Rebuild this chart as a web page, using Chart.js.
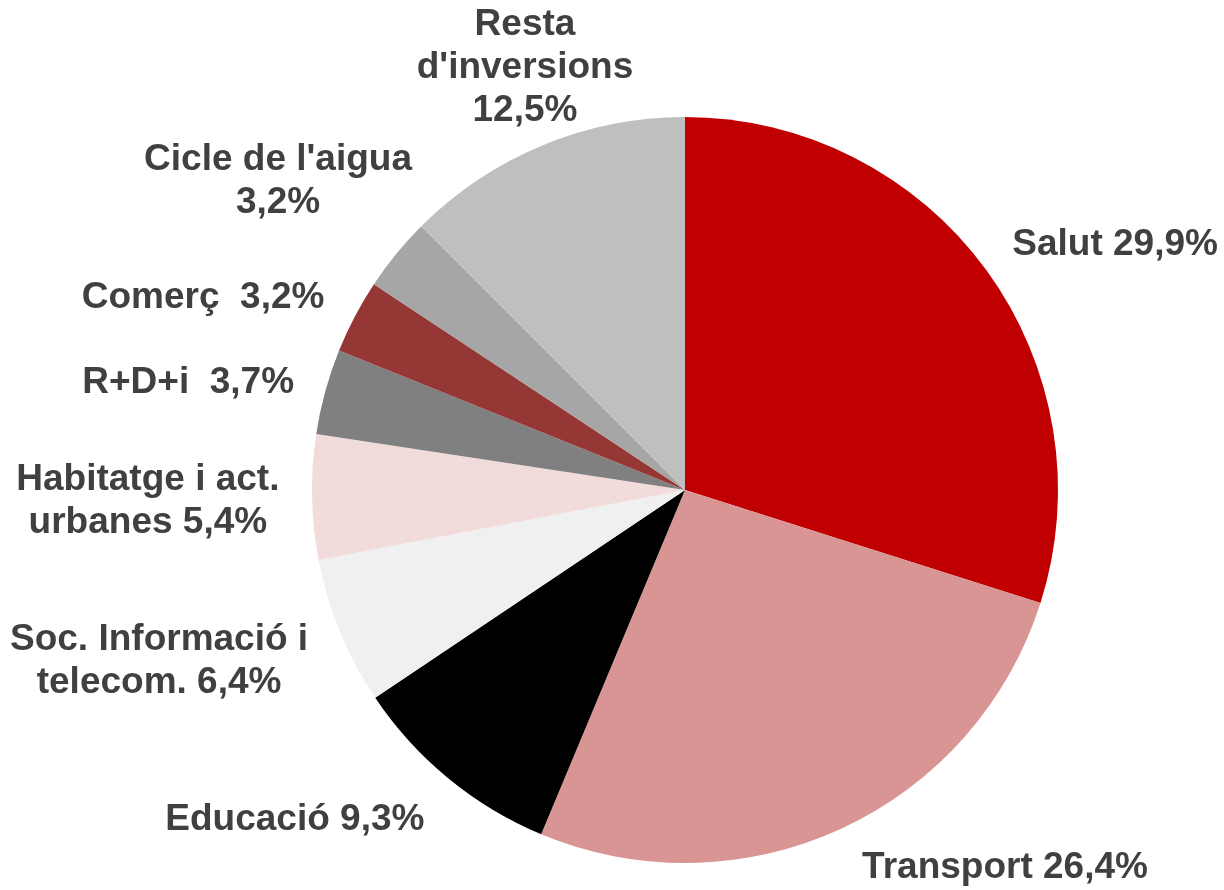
<!DOCTYPE html>
<html>
<head>
<meta charset="utf-8">
<script src="https://cdn.jsdelivr.net/npm/chart.js@4/dist/chart.umd.min.js"></script>
<style>
  html, body { margin: 0; padding: 0; background: #fff; }
  #wrap { width: 1224px; height: 890px; }
</style>
</head>
<body>
<div id="wrap"><canvas id="inversions" width="1224" height="890"></canvas></div>
<script>
const categories = ['Salut', 'Transport', 'Educació', 'Soc. Informació i\ntelecom.', 'Habitatge i act.\nurbanes',
  'R+D+i', 'Comerç', "Cicle de l'aigua", "Resta\nd'inversions"];
const shares = [29.9, 26.4, 9.3, 6.4, 5.4, 3.7, 3.2, 3.2, 12.5];
const labelSep = [' ', ' ', ' ', ' ', ' ', '  ', '  ', '\n', '\n'];
const colors = ['#C00000', '#D99594', '#000000', '#F0F0F0', '#F2DCDB', '#808080', '#953735', '#A6A6A6', '#BFBFBF'];

// label anchor offsets, in units of the pie radius from its centre
const labelOffsets = [[1.153, -0.657], [0.858, 1.013], [-1.046, 0.885], [-1.41, 0.458], [-1.44, 0.031],
  [-1.332, -0.287], [-1.292, -0.515], [-1.091, -0.828], [-0.429, -1.131]];

const fmt = v => v.toFixed(1).replace('.', ',') + '%';

const outsideLabels = {
  id: 'outsideLabels',
  afterDraw(chart) {
    const ctx = chart.ctx;
    const arcs = chart.getDatasetMeta(0).data;
    ctx.save();
    ctx.font = 'bold 37px "Liberation Sans", Arial, sans-serif';
    ctx.fillStyle = '#404040';
    ctx.textAlign = 'center';
    ctx.textBaseline = 'middle';
    arcs.forEach((arc, i) => {
      const r = arc.outerRadius;
      const cx = arc.x + labelOffsets[i][0] * r;
      const cy = arc.y + labelOffsets[i][1] * r;
      const lines = (categories[i] + labelSep[i] + fmt(shares[i])).split('\n');
      const lh = 43;
      const y0 = cy - (lines.length - 1) * lh / 2;
      lines.forEach((t, k) => ctx.fillText(t, cx, y0 + k * lh));
    });
    ctx.restore();
  }
};

new Chart(document.getElementById('inversions'), {
  type: 'pie',
  data: {
    labels: categories,
    datasets: [{
      data: shares,
      backgroundColor: colors,
      borderWidth: 0
    }]
  },
  options: {
    responsive: false,
    animation: false,
    layout: { padding: { left: 312, top: 117, right: 166, bottom: 27 } },
    plugins: {
      legend: { display: false },
      tooltip: { enabled: false }
    }
  },
  plugins: [outsideLabels]
});
</script>
</body>
</html>
